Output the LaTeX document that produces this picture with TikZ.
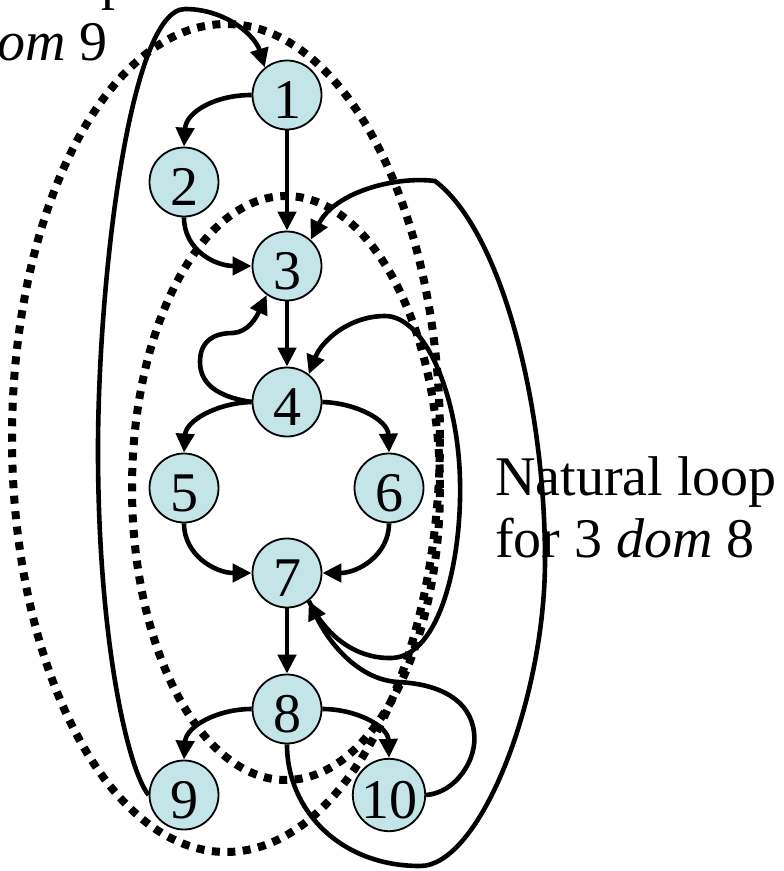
\documentclass[tikz,border=0pt]{standalone}
\usepackage{fontspec}
\setmainfont{Liberation Serif}
\usetikzlibrary{arrows.meta}
\definecolor{nodefill}{RGB}{196,229,231}
\begin{document}
\begin{tikzpicture}[x=1pt,y=-1pt,
  vtx/.style={circle,draw=black,line width=1.8pt,fill=nodefill,minimum size=69pt,inner sep=0pt,
    font=\fontsize{56}{62}\selectfont,text height=46pt,text depth=0pt},
  edge/.style={line width=4.6pt,-{Triangle[length=19pt,width=18pt]}},
  loopline/.style={line width=8pt,dash pattern=on 8pt off 7.5pt},
  lbl/.style={font=\fontsize{56}{62}\selectfont,inner sep=0pt,anchor=base west}]
\useasboundingbox (0,0) rectangle (784,871);
\clip (0,0) rectangle (784,871);

% natural loops (dotted)
\draw[loopline] (226,438) ellipse [x radius=214pt, y radius=414pt];
\draw[loopline] (286,488) ellipse [x radius=154pt, y radius=292pt];

% labels
\node[lbl] (la1) at (495,495) {Natural loop};
\node[lbl] (la2) at (495,557) {for 3 \textit{dom} 8};
\node[lbl] (lb1) at (-152,-2) {Natural loop};
\node[lbl] (lb2) at (-152,60) {for 1 \textit{dom} 9};

% nodes
\node[vtx] (n1) at (287,95) {1};
\node[vtx] (n2) at (184,182) {2};
\node[vtx] (n3) at (287,266) {3};
\node[vtx] (n4) at (287,402) {4};
\node[vtx] (n5) at (184,488) {5};
\node[vtx] (n6) at (389,488) {6};
\node[vtx] (n7) at (287,573) {7};
\node[vtx] (n8) at (287,709) {8};
\node[vtx] (n9) at (184,795) {9};
\node[vtx] (n10) at (389,795) {10};

% edges
\draw[edge] (n1.west) .. controls (215,95) and (186,112) .. (n2.north);
\draw[edge] (n1) -- (n3);
\draw[edge] (n2.south) .. controls (184,250) and (215,266) .. (n3.west);
\draw[edge] (n3) -- (n4);
\draw[edge] (n4.west) .. controls (225,398) and (200,388) .. (200,362)
   .. controls (200,340) and (215,333) .. (233,333)
   .. controls (248,332) and (256,318) .. (n3.-125);
\draw[edge] (n4.west) .. controls (218,403) and (186,420) .. (n5.north);
\draw[edge] (n4.east) .. controls (356,403) and (388,420) .. (n6.north);
\draw[edge] (n5.south) .. controls (184,555) and (215,573) .. (n7.west);
\draw[edge] (n6.south) .. controls (389,555) and (358,573) .. (n7.east);
\draw[edge] (n7) -- (n8);
\draw[edge] (n8.west) .. controls (218,709) and (186,726) .. (n9.north);
\draw[edge] (n8.east) .. controls (356,709) and (388,726) .. (n10.north);
% back edge 9 -> 1
\draw[edge] (n9.west) .. controls (128,770) and (98,640) .. (98,450)
   .. controls (98,280) and (130,9) .. (185,9)
   .. controls (225,9) and (255,35) .. (n1.129);
% back edge 8 -> 3
\draw[edge] (n8.south) .. controls (287,810) and (340,866) .. (420,866)
   .. controls (480,866) and (545,700) .. (545,560)
   .. controls (545,400) and (500,230) .. (435,181)
   .. controls (395,176) and (335,192) .. (n3.48);
% 10 -> 7
\draw[edge] (n10.east) .. controls (455,793) and (478,760) .. (474,732)
   .. controls (470,700) and (440,684) .. (398,682)
   .. controls (360,680) and (330,645) .. (n7.-52);
% back edge 7 -> 4
\draw[edge] (n7.-52) .. controls (325,635) and (355,659) .. (392,658)
   .. controls (440,656) and (462,560) .. (460,480)
   .. controls (458,395) and (425,316) .. (385,316)
   .. controls (350,316) and (322,340) .. (n4.52);
\end{tikzpicture}
\end{document}
